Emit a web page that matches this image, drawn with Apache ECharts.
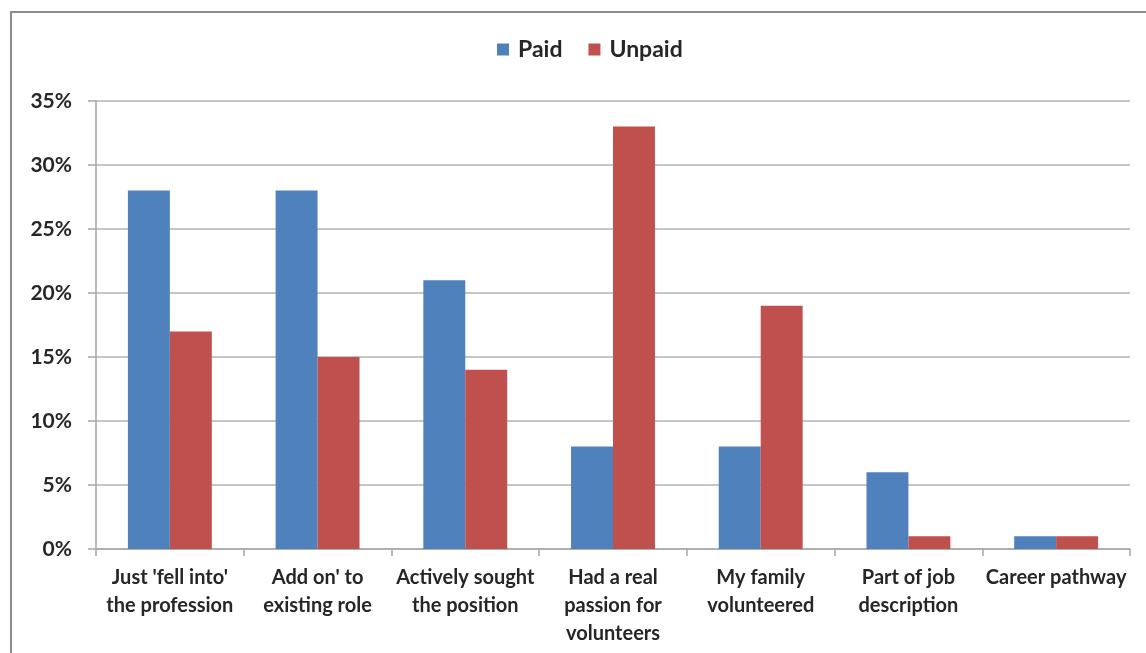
<!DOCTYPE html>
<html><head><meta charset="utf-8">
<script src="https://cdn.jsdelivr.net/npm/echarts@6/dist/echarts.min.js"></script>
<style>html,body{margin:0;padding:0;background:#fff}#c{width:1146px;height:653px}</style>
</head><body><div id="c"></div>
<script>
const categories = ["Just 'fell into'\nthe profession", "Add on' to\nexisting role", "Actively sought\nthe position", "Had a real\npassion for\nvolunteers", "My family\nvolunteered", "Part of job\ndescription", "Career pathway"];
const paid = [28, 28, 21, 8, 8, 6, 1];
const unpaid = [17, 15, 14, 33, 19, 1, 1];
const yTicks = [0, 5, 10, 15, 20, 25, 30, 35];

const FONT = 'Lato, "Open Sans", sans-serif';
const chart = echarts.init(document.getElementById('c'), null, {renderer: 'canvas'});
chart.setOption({
  animation: false,
  graphic: [{type: 'rect', shape: {x: 11, y: 12, width: 1160, height: 680}, style: {fill: 'none', stroke: '#8c8c8c', lineWidth: 2}, z: -1}],
  legend: {
    top: 33, left: 492, itemWidth: 12, itemHeight: 12, itemGap: 26,
    icon: 'rect',
    textStyle: {fontFamily: FONT, fontSize: 23, fontWeight: 'bold', color: '#262626', padding: [0, 0, 0, 4]},
    data: ['Paid', 'Unpaid']
  },
  grid: {left: 96, right: 16, top: 101, bottom: 104},
  xAxis: {
    type: 'category', data: categories,
    axisLine: {lineStyle: {color: '#a6a6a6', width: 1.5}},
    axisTick: {show: true, length: 7, lineStyle: {color: '#a6a6a6', width: 1.5}},
    axisLabel: {interval: 0, margin: 15, fontFamily: FONT, fontSize: 20, fontWeight: 'bold', color: '#262626', lineHeight: 28}
  },
  yAxis: {
    type: 'value', min: 0, max: 35, interval: 5,
    axisLine: {show: true, lineStyle: {color: '#a6a6a6', width: 1.5}},
    axisTick: {show: true, length: 8, lineStyle: {color: '#a6a6a6', width: 1.5}},
    splitLine: {lineStyle: {color: '#b3b3b3', width: 1.5}},
    axisLabel: {margin: 24, fontFamily: FONT, fontSize: 21, fontWeight: 'bold', color: '#262626',
      formatter: v => yTicks.includes(v) ? v + '%' : ''}
  },
  series: [
    {name: 'Paid', type: 'bar', data: paid, barWidth: '28.4%', barGap: '0%', itemStyle: {color: '#4f81bd'}},
    {name: 'Unpaid', type: 'bar', data: unpaid, barWidth: '28.4%', barGap: '0%', itemStyle: {color: '#c0504d'}}
  ]
});
</script></body></html>
